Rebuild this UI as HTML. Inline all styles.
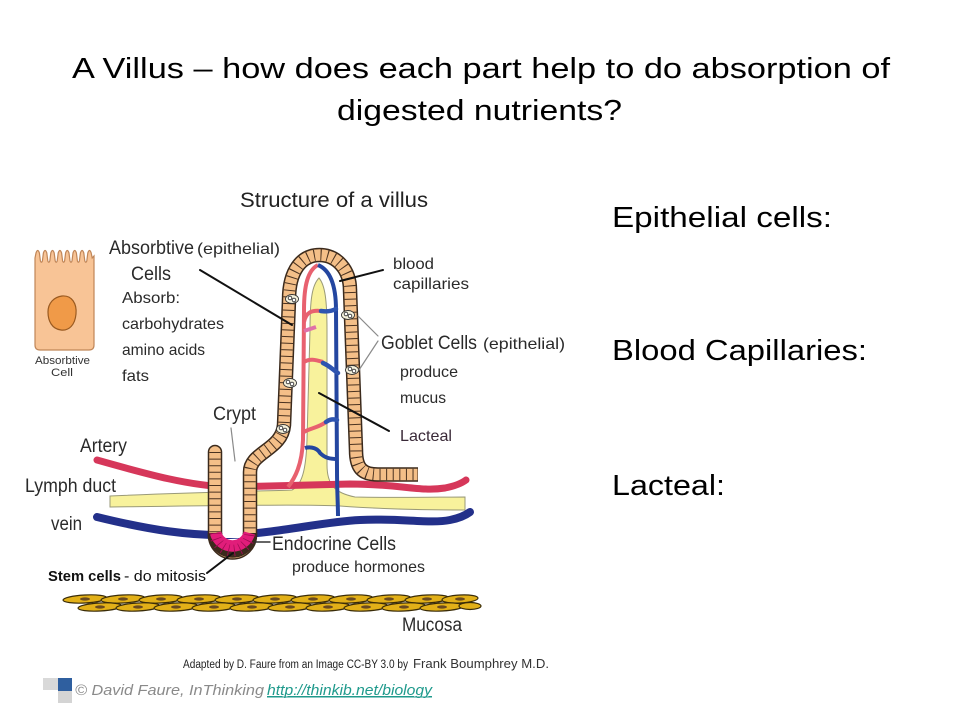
<!DOCTYPE html>
<html><head><meta charset="utf-8"><style>
html,body{margin:0;padding:0;background:#fff;}
svg{display:block;}
text{font-family:"Liberation Sans",Arial,sans-serif;}
</style></head><body>
<svg width="960" height="720" viewBox="0 0 960 720" xmlns="http://www.w3.org/2000/svg">
<rect width="960" height="720" fill="#fff"/>

<!-- Title -->
<text x="72" y="78" font-size="29" fill="#000" textLength="818" lengthAdjust="spacingAndGlyphs">A Villus – how does each part help to do absorption of</text>
<text x="337" y="120" font-size="29" fill="#000" textLength="285" lengthAdjust="spacingAndGlyphs">digested nutrients?</text>

<!-- Right side -->
<text x="612" y="227" font-size="29" fill="#000" textLength="220" lengthAdjust="spacingAndGlyphs">Epithelial  cells:</text>
<text x="612" y="360" font-size="29" fill="#000" textLength="255" lengthAdjust="spacingAndGlyphs">Blood Capillaries:</text>
<text x="612" y="495" font-size="29" fill="#000" textLength="113" lengthAdjust="spacingAndGlyphs">Lacteal:</text>

<!-- Diagram title -->
<text x="240" y="207" font-size="21" fill="#222" textLength="188" lengthAdjust="spacingAndGlyphs">Structure of a villus</text>

<!-- Absorptive cell drawing -->
<path d="M35,345 L35,258 L36,253 Q37.7,248 39.4,253 L40.4,261 Q41.4,263.5 42.4,261 L43.4,253 Q45.1,248 46.8,253 L47.8,261 Q48.8,263.5 49.8,261 L50.8,253 Q52.5,248 54.2,253 L55.2,261 Q56.2,263.5 57.2,261 L58.2,253 Q59.9,248 61.6,253 L62.6,261 Q63.6,263.5 64.6,261 L65.6,253 Q67.3,248 69,253 L70,261 Q71,263.5 72,261 L73,253 Q74.7,248 76.4,253 L77.4,261 Q78.4,263.5 79.4,261 L80.4,253 Q82.1,248 83.8,253 L84.8,261 Q85.8,263.5 86.8,261 L87.8,253 Q89.5,248 91.2,253 L92.2,258 L94,256 L94,345 Q94,350 89,350 L40,350 Q35,350 35,345 Z" fill="#f8c496" stroke="#c08658" stroke-width="1.2"/>
<path d="M62,296 C72,295 77,304 76,314 C75,325 69,331 61,330 C52,329 48,321 48,312 C48,303 54,297 62,296 Z" fill="#f09a48" stroke="#9a5a20" stroke-width="1.2"/>
<text x="35" y="364" font-size="11" fill="#333" textLength="55" lengthAdjust="spacingAndGlyphs">Absorbtive</text>
<text x="51" y="376" font-size="11" fill="#333" textLength="22" lengthAdjust="spacingAndGlyphs">Cell</text>

<!-- Left labels -->
<text x="109" y="254" font-size="19" fill="#2a2a2a" textLength="85" lengthAdjust="spacingAndGlyphs">Absorbtive</text>
<text x="197" y="254" font-size="16" fill="#2a2a2a" textLength="83" lengthAdjust="spacingAndGlyphs">(epithelial)</text>
<text x="131" y="280" font-size="19" fill="#2a2a2a" textLength="40" lengthAdjust="spacingAndGlyphs">Cells</text>
<text x="122" y="303" font-size="16" fill="#2a2a2a" textLength="58" lengthAdjust="spacingAndGlyphs">Absorb:</text>
<text x="122" y="329" font-size="16" fill="#2a2a2a" textLength="102" lengthAdjust="spacingAndGlyphs">carbohydrates</text>
<text x="122" y="355" font-size="16" fill="#2a2a2a" textLength="83" lengthAdjust="spacingAndGlyphs">amino acids</text>
<text x="122" y="381" font-size="16" fill="#2a2a2a" textLength="27" lengthAdjust="spacingAndGlyphs">fats</text>
<text x="213" y="420" font-size="19" fill="#2a2a2a" textLength="43" lengthAdjust="spacingAndGlyphs">Crypt</text>
<text x="80" y="452" font-size="19" fill="#2a2a2a" textLength="47" lengthAdjust="spacingAndGlyphs">Artery</text>
<text x="25" y="492" font-size="19" fill="#2a2a2a" textLength="91" lengthAdjust="spacingAndGlyphs">Lymph duct</text>
<text x="51" y="530" font-size="19" fill="#2a2a2a" textLength="31" lengthAdjust="spacingAndGlyphs">vein</text>

<!-- Right labels -->
<text x="393" y="269" font-size="16" fill="#2a2a2a" textLength="41" lengthAdjust="spacingAndGlyphs">blood</text>
<text x="393" y="289" font-size="16" fill="#2a2a2a" textLength="76" lengthAdjust="spacingAndGlyphs">capillaries</text>
<text x="381" y="349" font-size="19" fill="#2a2a2a" textLength="96" lengthAdjust="spacingAndGlyphs">Goblet Cells</text>
<text x="483" y="349" font-size="16" fill="#2a2a2a" textLength="82" lengthAdjust="spacingAndGlyphs">(epithelial)</text>
<text x="400" y="377" font-size="16" fill="#2a2a2a" textLength="58" lengthAdjust="spacingAndGlyphs">produce</text>
<text x="400" y="403" font-size="16" fill="#2a2a2a" textLength="46" lengthAdjust="spacingAndGlyphs">mucus</text>
<text x="400" y="441" font-size="16" fill="#3a2a38" textLength="52" lengthAdjust="spacingAndGlyphs">Lacteal</text>
<text x="272" y="550" font-size="19" fill="#2a2a2a" textLength="124" lengthAdjust="spacingAndGlyphs">Endocrine Cells</text>
<text x="292" y="572" font-size="16" fill="#2a2a2a" textLength="133" lengthAdjust="spacingAndGlyphs">produce hormones</text>
<text x="48" y="581" font-size="15" font-weight="bold" fill="#111" textLength="73" lengthAdjust="spacingAndGlyphs">Stem cells</text>
<text x="124" y="581" font-size="15" fill="#111" textLength="82" lengthAdjust="spacingAndGlyphs">- do mitosis</text>
<text x="402" y="631" font-size="19" fill="#2a2a2a" textLength="60" lengthAdjust="spacingAndGlyphs">Mucosa</text>

<!-- Lymph duct + lacteal -->
<path d="M319,278 C325,285 327,300 327,330 L327,465 C327,485 335,493 355,497 C400,498 440,497 465,497 L465,510 C420,510 380,509 340,506 C300,504 200,506 110,507 L110,496 C200,492 270,491 292,490 C302,485 306,470 307,440 L310,330 C310,300 312,285 319,278 Z" fill="#f8f29c" stroke="#9a9a78" stroke-width="1"/>

<!-- Artery -->
<path d="M97,460 C150,475 190,486 230,487 L350,484 C400,484 420,492 445,488 C455,486 462,483 466,480" fill="none" stroke="#d6375a" stroke-width="7" stroke-linecap="round"/>

<!-- Red capillary -->
<path d="M318,265 C308,270 304,285 304,310 L303,440 C302,465 295,478 288,487" fill="none" stroke="#e8616f" stroke-width="4"/>
<path d="M304,322 C306,312 312,310 321,311" fill="none" stroke="#e8616f" stroke-width="4"/>
<path d="M304,331 L316,327" fill="none" stroke="#e070a8" stroke-width="4"/>
<path d="M304,362 C310,358 316,360 323,362" fill="none" stroke="#e8616f" stroke-width="4"/>
<path d="M304,432 C310,428 318,428 326,422" fill="none" stroke="#e8616f" stroke-width="4"/>

<!-- Vein -->
<path d="M97,517 C150,530 190,536 230,535 C280,533 320,522 360,520 C400,518 430,524 450,520 C460,518 466,515 470,512" fill="none" stroke="#23308a" stroke-width="8" stroke-linecap="round"/>

<!-- Blue capillary -->
<path d="M318,265 C330,270 336,285 336,310 L337,470 C337,490 338,505 338,516" fill="none" stroke="#2446a0" stroke-width="4"/>
<path d="M321,311 C328,312 332,311 336,309" fill="none" stroke="#2e54b0" stroke-width="4.5" stroke-linecap="round"/>
<path d="M323,363 C330,366 333,370 338,373" fill="none" stroke="#2e54b0" stroke-width="4.5" stroke-linecap="round"/>
<path d="M326,422 C330,419 333,419 337,420" fill="none" stroke="#2e54b0" stroke-width="4.5" stroke-linecap="round"/>
<path d="M305,448 C312,446 318,449 320,453 C325,458 330,459 337,459" fill="none" stroke="#2446a0" stroke-width="4"/>

<!-- Crypt lumen -->
<rect x="222" y="448" width="21" height="90" fill="#fff"/>

<!-- Epithelium band -->
<g fill="none">
  <path d="M215,535 A17.5,17.5 0 0 0 250,535 L250,472 C250,452 282,450 284,425 L289,300 C289,270 302,255 319.5,255 C337,255 350,270 350,290 L356,450 C356,468 362,474.5 378,474.5 L418,474.5" stroke="#3b2a1c" stroke-width="14.5"/>
  <path d="M215,535 A17.5,17.5 0 0 0 250,535 L250,472 C250,452 282,450 284,425 L289,300 C289,270 302,255 319.5,255 C337,255 350,270 350,290 L356,450 C356,468 362,474.5 378,474.5 L417.5,474.5" stroke="#f4bf88" stroke-width="11.5"/>
  <path d="M250,535 L250,472 C250,452 282,450 284,425 L289,300 C289,270 302,255 319.5,255 C337,255 350,270 350,290 L356,450 C356,468 362,474.5 378,474.5 L417,474.5" stroke="#4a3220" stroke-width="11.5" stroke-dasharray="1 5.6"/>
  <!-- left crypt wall -->
  <path d="M215,452 L215,537" stroke="#3b2a1c" stroke-width="14.5" stroke-linecap="round"/>
  <path d="M215,452 L215,537" stroke="#f4bf88" stroke-width="11.5" stroke-linecap="round"/>
  <path d="M215,452 L215,535" stroke="#4a3220" stroke-width="11.5" stroke-dasharray="1 5.6"/>
  <!-- pink U -->
  <path d="M215,533 A17.5,17.5 0 0 0 250,533" stroke="#3b2a1c" stroke-width="14.5"/>
  <path d="M215.6,533 A17.5,17.5 0 0 0 249.4,533" stroke="#e11d7a" stroke-width="11.5"/>
  <path d="M215,533 A17.5,17.5 0 0 0 250,533" stroke="#9a0c50" stroke-width="11.5" stroke-dasharray="0.8 5"/>
</g>

<!-- Goblet cells -->
<g stroke="#333" stroke-width="0.9">
  <ellipse cx="292" cy="299" rx="6.5" ry="4.5" fill="#f5f1dc"/>
  <ellipse cx="348" cy="315" rx="6.5" ry="4.5" fill="#f5f1dc"/>
  <ellipse cx="290" cy="383" rx="6.5" ry="4.5" fill="#f5f1dc"/>
  <ellipse cx="352" cy="370" rx="6.5" ry="4.5" fill="#f5f1dc"/>
  <ellipse cx="283" cy="429" rx="6.5" ry="4.5" fill="#f5f1dc"/>
  <circle cx="290" cy="298" r="1.8" fill="#fff"/><circle cx="294" cy="300" r="1.8" fill="#fff"/>
  <circle cx="346" cy="314" r="1.8" fill="#fff"/><circle cx="350" cy="316" r="1.8" fill="#fff"/>
  <circle cx="288" cy="382" r="1.8" fill="#fff"/><circle cx="292" cy="384" r="1.8" fill="#fff"/>
  <circle cx="350" cy="369" r="1.8" fill="#fff"/><circle cx="354" cy="371" r="1.8" fill="#fff"/>
  <circle cx="281" cy="428" r="1.8" fill="#fff"/><circle cx="285" cy="430" r="1.8" fill="#fff"/>
</g>

<!-- Pointer lines -->
<g stroke-linecap="round">
  <line x1="200" y1="270" x2="292" y2="325" stroke="#111" stroke-width="2"/>
  <line x1="383" y1="270" x2="340" y2="281" stroke="#111" stroke-width="2"/>
  <line x1="389" y1="431" x2="319" y2="393" stroke="#111" stroke-width="2"/>
  <line x1="207" y1="573" x2="233" y2="553" stroke="#111" stroke-width="2"/>
  <line x1="255" y1="542" x2="270" y2="542" stroke="#333" stroke-width="1.5"/>
  <line x1="378" y1="336" x2="358" y2="316" stroke="#8a8a8a" stroke-width="1.2"/>
  <line x1="378" y1="341" x2="359" y2="370" stroke="#8a8a8a" stroke-width="1.2"/>
  <line x1="231" y1="428" x2="235" y2="461" stroke="#8a8a8a" stroke-width="1.2"/>
</g>

<!-- Mucosa -->
<g stroke="#3a2c08" stroke-width="1.2" fill="#e2b018">
  <ellipse cx="85" cy="599" rx="22" ry="4" transform="rotate(-3 85 599)"/>
  <ellipse cx="123" cy="599" rx="22" ry="4" transform="rotate(-3 123 599)"/>
  <ellipse cx="161" cy="599" rx="22" ry="4" transform="rotate(-3 161 599)"/>
  <ellipse cx="199" cy="599" rx="22" ry="4" transform="rotate(-3 199 599)"/>
  <ellipse cx="237" cy="599" rx="22" ry="4" transform="rotate(-3 237 599)"/>
  <ellipse cx="275" cy="599" rx="22" ry="4" transform="rotate(-3 275 599)"/>
  <ellipse cx="313" cy="599" rx="22" ry="4" transform="rotate(-3 313 599)"/>
  <ellipse cx="351" cy="599" rx="22" ry="4" transform="rotate(-3 351 599)"/>
  <ellipse cx="389" cy="599" rx="22" ry="4" transform="rotate(-3 389 599)"/>
  <ellipse cx="427" cy="599" rx="22" ry="4" transform="rotate(-3 427 599)"/>
  <ellipse cx="460" cy="599" rx="18" ry="4" transform="rotate(-3 460 599)"/>
  <ellipse cx="100" cy="607" rx="22" ry="4" transform="rotate(-3 100 607)"/>
  <ellipse cx="138" cy="607" rx="22" ry="4" transform="rotate(-3 138 607)"/>
  <ellipse cx="176" cy="607" rx="22" ry="4" transform="rotate(-3 176 607)"/>
  <ellipse cx="214" cy="607" rx="22" ry="4" transform="rotate(-3 214 607)"/>
  <ellipse cx="252" cy="607" rx="22" ry="4" transform="rotate(-3 252 607)"/>
  <ellipse cx="290" cy="607" rx="22" ry="4" transform="rotate(-3 290 607)"/>
  <ellipse cx="328" cy="607" rx="22" ry="4" transform="rotate(-3 328 607)"/>
  <ellipse cx="366" cy="607" rx="22" ry="4" transform="rotate(-3 366 607)"/>
  <ellipse cx="404" cy="607" rx="22" ry="4" transform="rotate(-3 404 607)"/>
  <ellipse cx="442" cy="607" rx="22" ry="4" transform="rotate(-3 442 607)"/>
  <ellipse cx="470" cy="606" rx="11" ry="3.5"/>
</g>
<g fill="#6a4a20">
  <ellipse cx="85" cy="599" rx="5" ry="1.6"/><ellipse cx="123" cy="599" rx="5" ry="1.6"/><ellipse cx="161" cy="599" rx="5" ry="1.6"/><ellipse cx="199" cy="599" rx="5" ry="1.6"/><ellipse cx="237" cy="599" rx="5" ry="1.6"/><ellipse cx="275" cy="599" rx="5" ry="1.6"/><ellipse cx="313" cy="599" rx="5" ry="1.6"/><ellipse cx="351" cy="599" rx="5" ry="1.6"/><ellipse cx="389" cy="599" rx="5" ry="1.6"/><ellipse cx="427" cy="599" rx="5" ry="1.6"/><ellipse cx="460" cy="599" rx="5" ry="1.6"/>
  <ellipse cx="100" cy="607" rx="5" ry="1.6"/><ellipse cx="138" cy="607" rx="5" ry="1.6"/><ellipse cx="176" cy="607" rx="5" ry="1.6"/><ellipse cx="214" cy="607" rx="5" ry="1.6"/><ellipse cx="252" cy="607" rx="5" ry="1.6"/><ellipse cx="290" cy="607" rx="5" ry="1.6"/><ellipse cx="328" cy="607" rx="5" ry="1.6"/><ellipse cx="366" cy="607" rx="5" ry="1.6"/><ellipse cx="404" cy="607" rx="5" ry="1.6"/><ellipse cx="442" cy="607" rx="5" ry="1.6"/>
</g>

<!-- Credits -->
<text x="183" y="668" font-size="11.5" fill="#222" textLength="225" lengthAdjust="spacingAndGlyphs">Adapted by D. Faure from an Image CC-BY 3.0 by</text>
<text x="413" y="668" font-size="12.5" fill="#333" textLength="136" lengthAdjust="spacingAndGlyphs">Frank Boumphrey M.D.</text>

<!-- Footer -->
<rect x="43" y="678" width="15" height="12" fill="#d9d9d9"/>
<rect x="58" y="678" width="14" height="13" fill="#2f5f9f"/>
<rect x="58" y="691" width="14" height="12" fill="#d4d4d4"/>
<text x="75" y="695" font-size="15" font-style="italic" fill="#8a8a8a" textLength="189" lengthAdjust="spacingAndGlyphs">© David Faure, InThinking</text>
<text x="267" y="695" font-size="15" font-style="italic" fill="#1f9a8c" text-decoration="underline" textLength="165" lengthAdjust="spacingAndGlyphs">http://thinkib.net/biology</text>
<line x1="267" y1="697" x2="432" y2="697" stroke="#1f9a8c" stroke-width="1"/>
</svg>
</body></html>
